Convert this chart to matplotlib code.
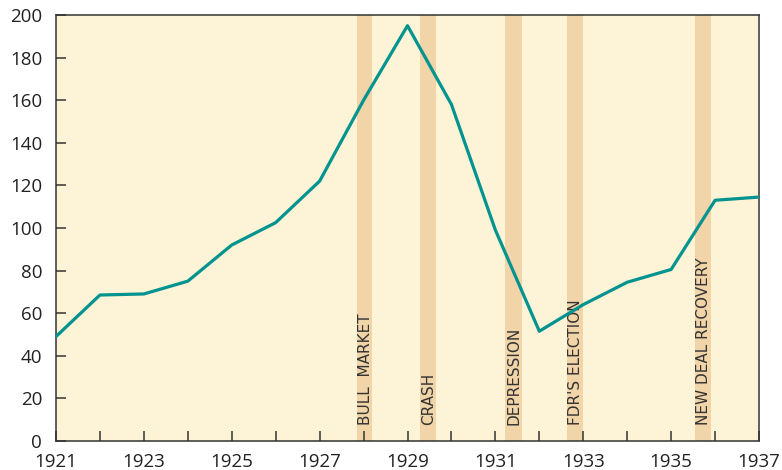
import matplotlib
matplotlib.use('Agg')
import matplotlib.pyplot as plt

plt.rcParams['font.family'] = ['Open Sans', 'DejaVu Sans']

# 数据
years = [1921, 1922, 1923, 1924, 1925, 1926, 1927, 1928, 1929,
         1930, 1931, 1932, 1933, 1934, 1935, 1936, 1937]
values = [49, 68.5, 69, 75, 92, 102.5, 122, 160, 195,
          158, 99, 51.5, 64, 74.5, 80.5, 113, 114.5]

band_labels = ['BULL  MARKET', 'CRASH', 'DEPRESSION', "FDR'S ELECTION", 'NEW DEAL RECOVERY']
band_starts = [1927.85, 1929.29, 1931.23, 1932.64, 1935.54]
band_ends = [1928.2, 1929.65, 1931.6, 1933.0, 1935.9]

fig = plt.figure(figsize=(7.82, 4.70), dpi=100)
ax = fig.add_axes([0.0716, 0.062, 0.899, 0.906])
ax.set_facecolor('#fdf3d6')

for s, e, lab in zip(band_starts, band_ends, band_labels):
    ax.axvspan(s, e, color='#f2d4a9', lw=0, zorder=1)
    ax.text((s + e) / 2 + 0.01, 7.5, lab, rotation=90, ha='center', va='bottom',
            fontsize=11, color='#333333', zorder=3, family='DejaVu Sans')

ax.plot(years, values, color='#00938f', lw=2.3, zorder=4)

ax.set_xlim(1921, 1937)
ax.set_ylim(0, 200)
ax.set_xticks(range(1921, 1938))
ax.set_xticklabels([str(y) if (y - 1921) % 2 == 0 else '' for y in range(1921, 1938)])
ax.set_yticks(range(0, 201, 20))

ax.tick_params(axis='both', direction='in', length=7, width=1.1, color='#333333',
               labelsize=13.5, labelcolor='#222222')
ax.tick_params(axis='y', pad=10)
ax.tick_params(axis='x', pad=9)

for spine in ax.spines.values():
    spine.set_edgecolor('#333333')
    spine.set_linewidth(1.1)

fig.savefig('out.png', dpi=100)
plt.close(fig)
